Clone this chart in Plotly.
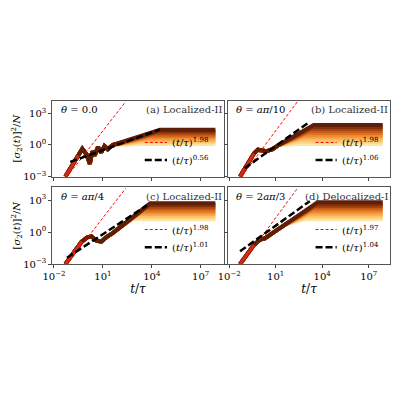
import plotly.graph_objects as go

panel_labels = ["(a) Localized-II", "(b) Localized-II", "(c) Localized-II", "(d) Delocalized-I"]
theta_labels = ["<i>θ</i> = 0.0", "<i>θ</i> = <i>aπ</i>/10", "<i>θ</i> = <i>aπ</i>/4", "<i>θ</i> = 2<i>aπ</i>/3"]
red_exp = ["1.98", "1.98", "1.98", "1.97"]
black_exp = ["0.56", "1.06", "1.01", "1.04"]

# backbone (log10 t, log10 y) per panel
bb_logt = [
    [-1.3, -0.9, -0.5, -0.26, 0.0, 0.2, 0.35, 0.5, 0.7, 0.9, 1.1, 1.3, 1.6],
    [-1.3, -0.8, -0.4, -0.15, 0.1, 0.4, 0.8, 1.2],
    [-1.3, -0.8, -0.3, 0.05, 0.3, 0.6, 0.9, 1.2, 1.6],
    [-1.3, -0.8, -0.4, 0.0, 0.3, 0.7, 1.2, 1.6],
]
bb_logy = [
    [-3.0, -2.0, -1.0, -0.36, -0.9, -1.8, -0.6, -1.0, -0.2, -0.7, -0.1, -0.4, 0.0],
    [-3.0, -1.8, -0.8, -0.45, -0.5, -0.6, -0.4, 0.0],
    [-3.0, -1.9, -0.9, -0.5, -0.4, -0.8, -0.9, -0.5, -0.1],
    [-3.0, -2.0, -1.2, -0.7, -0.6, -0.2, 0.3, 0.7],
]
# per-curve saturation (log10 t) and plateau (log10 y), lightest to darkest
sat_logt = [
    [3.1, 3.3, 3.45, 3.6, 3.75, 3.9, 4.05, 4.2, 4.35, 4.5],
    [2.2, 2.35, 2.5, 2.65, 2.8, 2.95, 3.1, 3.2, 3.3, 3.45],
    [2.7, 2.85, 3.0, 3.15, 3.3, 3.45, 3.55, 3.65, 3.8, 3.9],
    [2.8, 2.9, 3.0, 3.1, 3.2, 3.3, 3.4, 3.5, 3.6, 3.7],
]
plat_logy = [
    [0.1, 0.25, 0.4, 0.55, 0.7, 0.85, 1.0, 1.15, 1.3, 1.45],
    [0.1, 0.3, 0.5, 0.7, 0.9, 1.1, 1.3, 1.5, 1.7, 1.9],
    [1.2, 1.37, 1.53, 1.7, 1.87, 2.03, 2.2, 2.37, 2.53, 2.7],
    [1.2, 1.38, 1.56, 1.73, 1.91, 2.09, 2.27, 2.44, 2.62, 2.8],
]
end_logt = 7.9
colors = ["#fee6a6", "#fdd586", "#fcc169", "#f9a94d", "#f08f36", "#e07625",
          "#c85c17", "#a8440f", "#84300b", "#5e1f08"]
# fit lines: (log t start, log y start, log t end, log y end)
red_fit = [(-1.2, -3.0, 2.4, 4.1)] * 4
black_fit = [(-1.0, -1.6, 4.5, 1.45), (-1.0, -2.2, 3.2, 2.2), (-1.2, -2.4, 3.7, 2.5), (-1.3, -1.8, 3.2, 2.9)]

xdom = [[0.088, 0.527], [0.5375, 0.955]]
ydom = [[0.572, 0.765], [0.35, 0.545]]
fig = go.Figure()
for p in range(4):
    r, c = divmod(p, 2)
    ax = "" if p == 0 else str(p + 1)
    xa, ya = "x" + ax, "y" + ax
    bt, by = bb_logt[p], bb_logy[p]
    for i in range(10):
        P = plat_logy[p][i]
        xs = [10 ** t for t in bt] + [10 ** sat_logt[p][i], 10 ** end_logt]
        ys = [10 ** y for y in by] + [10 ** P, 10 ** P]
        fig.add_trace(go.Scatter(x=xs, y=ys, mode="lines", line=dict(color=colors[i], width=4),
                                 xaxis=xa, yaxis=ya, showlegend=False, hoverinfo="skip"))
    fig.add_trace(go.Scatter(x=[10 ** bt[0], 10 ** bt[2]], y=[10 ** by[0], 10 ** by[2]], mode="lines",
                             line=dict(color="#d42a1a", width=3), xaxis=xa, yaxis=ya, showlegend=False))
    rf, bf = red_fit[p], black_fit[p]
    fig.add_trace(go.Scatter(x=[10 ** rf[0], 10 ** rf[2]], y=[10 ** rf[1], 10 ** rf[3]], mode="lines",
                             line=dict(color="red", width=1, dash="3px,2px"), xaxis=xa, yaxis=ya, showlegend=False))
    fig.add_trace(go.Scatter(x=[10 ** bf[0], 10 ** bf[2]], y=[10 ** bf[1], 10 ** bf[3]], mode="lines",
                             line=dict(color="black", width=2.5, dash="7px,3px"), xaxis=xa, yaxis=ya, showlegend=False))
    fig.update_layout(**{
        "xaxis" + ax: dict(type="log", range=[-2.1, 8.4], domain=xdom[c], anchor=ya,
                           tickvals=[1e-2, 1e1, 1e4, 1e7],
                           ticktext=["10<sup>−2</sup>", "10<sup>1</sup>", "10<sup>4</sup>", "10<sup>7</sup>"],
                           showticklabels=(r == 1), ticks="outside", ticklen=3, showline=True, mirror=True,
                           linecolor="#555", showgrid=False, zeroline=False,
                           title=dict(text="<i>t</i>/<i>τ</i>", standoff=2) if r == 1 else None),
        "yaxis" + ax: dict(type="log", range=[-3, 4.2], domain=ydom[r], anchor=xa,
                           tickvals=[1e-3, 1, 1e3],
                           ticktext=["10<sup>−3</sup>", "10<sup>0</sup>", "10<sup>3</sup>"],
                           showticklabels=(c == 0), ticks="outside", ticklen=3, showline=True, mirror=True,
                           linecolor="#555", showgrid=False, zeroline=False,
                           title=dict(text="[<i>σ</i><sub>2</sub>(<i>t</i>)]<sup>2</sup>/<i>N</i>", standoff=0,
                                      font=dict(size=10)) if c == 0 else None),
    })
    xr, yr = xa + " domain", ya + " domain"
    fig.add_annotation(x=0.04, y=0.98, xref=xr, yref=yr, text=theta_labels[p], showarrow=False,
                       xanchor="left", yanchor="top", font=dict(size=10))
    fig.add_annotation(x=1.0, y=0.98, xref=xr, yref=yr, text=panel_labels[p], showarrow=False,
                       xanchor="right", yanchor="top", font=dict(size=10, color="#333"))
    fig.add_shape(type="line", x0=0.54, x1=0.67, y0=0.45, y1=0.45, xref=xr, yref=yr,
                  line=dict(color="red", width=1, dash="3px,2px"))
    fig.add_shape(type="line", x0=0.54, x1=0.67, y0=0.22, y1=0.22, xref=xr, yref=yr,
                  line=dict(color="black", width=2.5, dash="7px,3px"))
    fig.add_annotation(x=0.69, y=0.45, xref=xr, yref=yr, text="(<i>t</i>/<i>τ</i>)<sup>" + red_exp[p] + "</sup>",
                       showarrow=False, xanchor="left", yanchor="middle", font=dict(size=10))
    fig.add_annotation(x=0.69, y=0.22, xref=xr, yref=yr, text="(<i>t</i>/<i>τ</i>)<sup>" + black_exp[p] + "</sup>",
                       showarrow=False, xanchor="left", yanchor="middle", font=dict(size=10))

fig.update_layout(width=400, height=400, margin=dict(l=0, r=0, t=0, b=0),
                  plot_bgcolor="white", paper_bgcolor="white",
                  font=dict(family="DejaVu Serif", size=10, color="black"))
fig.write_html("out.html")
